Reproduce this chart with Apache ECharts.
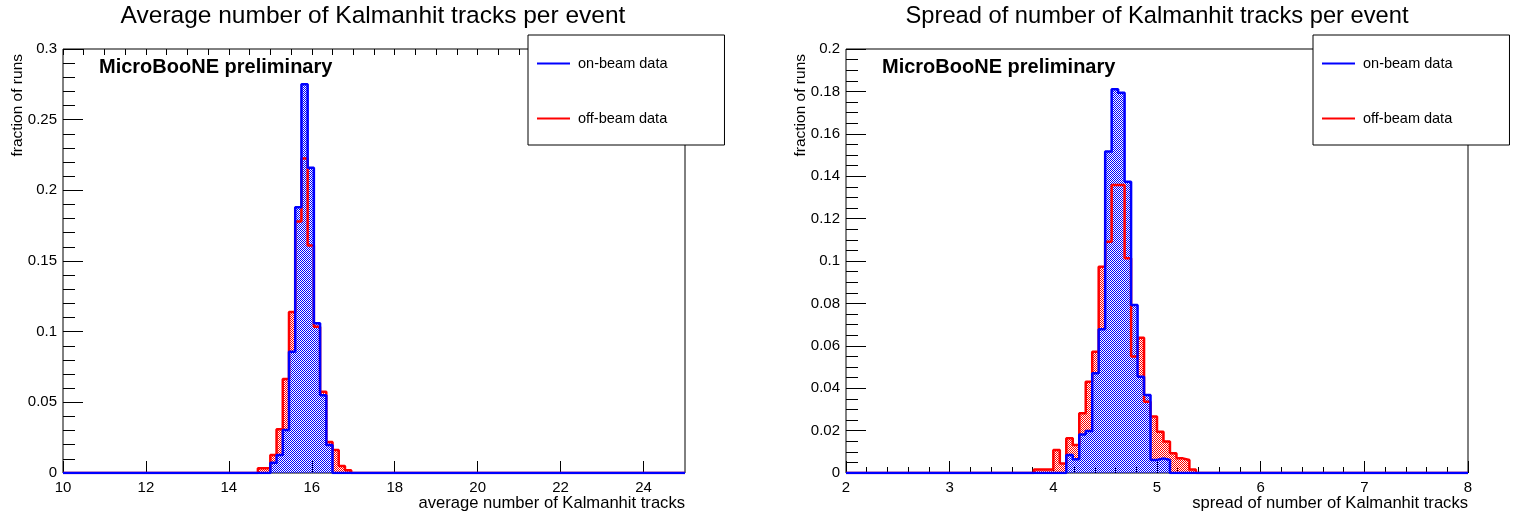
<!DOCTYPE html>
<html>
<head>
<meta charset="utf-8">
<script src="https://cdn.jsdelivr.net/npm/echarts@6/dist/echarts.min.js"></script>
<style>
html, body { margin: 0; padding: 0; background: #fff; }
#chart { width: 1521px; height: 520px; }
</style>
</head>
<body>
<div id="chart"></div>
<script>
// left pad: average number of Kalmanhit tracks per event (bins of 0.15)
var avgXRange = [10, 25];
var avgYRange = [0, 0.3];
var avgBinWidth = 0.15;
var avgOnStart = 15.0;
var avgOnBeam = [0.0073, 0.0127, 0.0304, 0.0858, 0.188, 0.275, 0.216, 0.106, 0.055, 0.0198];
var avgOffStart = 14.7;
var avgOffBeam = [0.0033, 0.0033, 0.0127, 0.031, 0.0665, 0.114, 0.178, 0.2225, 0.161, 0.1035, 0.0575, 0.022, 0.0163, 0.005, 0.002];

// right pad: spread of number of Kalmanhit tracks (bins of 0.0625)
var sprXRange = [2, 8];
var sprYRange = [0, 0.2];
var sprBinWidth = 0.0625;
var sprOnStart = 4.125;
var sprOnBeam = [0.0085, 0.0065, 0.0182, 0.0198, 0.047, 0.0678, 0.1516, 0.181, 0.1794, 0.1374, 0.0792, 0.0454, 0.0368, 0.0061, 0.0069, 0.0061];
var sprOffStart = 3.8125;
var sprOffBeam = [0.0017, 0.0017, 0.0017, 0.0108, 0.0045, 0.0164, 0.0132, 0.0282, 0.0431, 0.0572, 0.0973, 0.1091, 0.1358, 0.1358, 0.1013, 0.0549, 0.0638, 0.0336, 0.0266, 0.0195, 0.0148, 0.0093, 0.0069, 0.0061, 0.0017];

var seriesNames = ['on-beam data', 'off-beam data'];
var FONT = 'Liberation Sans';

// histogram -> step points, zero line over the whole axis range
function histPoints(start, width, values, range) {
    var pts = [[range[0], 0]];
    for (var i = 0; i < values.length; i++) {
        pts.push([+(start + i * width).toFixed(4), values[i]]);
    }
    pts.push([+(start + values.length * width).toFixed(4), 0]);
    pts.push([range[1], 0]);
    return pts;
}

// ROOT style dotted fill
function dotPattern(color) {
    var c = document.createElement('canvas');
    c.width = 2; c.height = 2;
    var ctx = c.getContext('2d');
    ctx.fillStyle = color;
    ctx.fillRect(0, 0, 1, 1);
    ctx.fillRect(1, 1, 1, 1);
    return { image: c, repeat: 'repeat' };
}

function histSeries(name, color, idx, pts) {
    return {
        name: name,
        type: 'line',
        step: 'end',
        xAxisIndex: idx,
        yAxisIndex: idx,
        symbol: 'none',
        itemStyle: { color: color },
        lineStyle: { color: color, width: 2.5 },
        areaStyle: { color: dotPattern(color), opacity: 1 },
        data: pts
    };
}

function xAxisOf(grid, range, step, minor) {
    return {
        gridIndex: grid,
        type: 'value',
        min: range[0],
        max: range[1],
        interval: step,
        axisLine: { show: false },
        axisTick: { inside: true, length: 12, lineStyle: { color: '#000' } },
        minorTick: minor ? { show: true, splitNumber: minor, length: 6, lineStyle: { color: '#000' } } : { show: false },
        axisLabel: { color: '#000', fontSize: 15, margin: 7, fontFamily: FONT, showMaxLabel: range[1] % step === 0 },
        splitLine: { show: false }
    };
}

function yAxisOf(grid, range, step, minor) {
    return {
        gridIndex: grid,
        type: 'value',
        min: range[0],
        max: range[1],
        interval: step,
        axisLine: { show: false },
        axisTick: { inside: true, length: 20, lineStyle: { color: '#000' } },
        minorTick: { show: true, splitNumber: minor, length: 12, lineStyle: { color: '#000' } },
        axisLabel: { color: '#000', fontSize: 15, margin: 6, fontFamily: FONT },
        splitLine: { show: false }
    };
}

function legendAt(left) {
    return {
        left: left,
        top: 35,
        orient: 'vertical',
        align: 'left',
        selectedMode: false,
        backgroundColor: '#fff',
        borderColor: '#000',
        borderWidth: 1,
        borderRadius: 0,
        padding: [21, 57, 19, 9],
        itemGap: 40,
        itemWidth: 33,
        itemHeight: 2,
        textStyle: { color: '#000', fontSize: 14.5, fontFamily: FONT, padding: [0, 0, 0, 3] },
        data: [
            { name: seriesNames[0], icon: 'rect', itemStyle: { color: '#0000ff' } },
            { name: seriesNames[1], icon: 'rect', itemStyle: { color: '#ff0000' } }
        ]
    };
}

function label(x, y, text, size, opts) {
    var o = opts || {};
    return {
        type: 'text',
        x: x,
        y: y,
        rotation: o.rotation || 0,
        z: 10,
        style: {
            text: text,
            fill: '#000',
            font: (o.bold ? 'bold ' : '') + size + 'px "' + FONT + '"',
            textAlign: o.align || 'left',
            textVerticalAlign: 'middle'
        }
    };
}

var myChart = echarts.init(document.getElementById('chart'));

var option = {
    animation: false,
    backgroundColor: '#fff',
    textStyle: { fontFamily: FONT },
    title: [
        { text: 'Average number of Kalmanhit tracks per event', left: 373, top: 4, textAlign: 'center', padding: 0,
          textStyle: { fontSize: 24.5, fontWeight: 'normal', color: '#000', fontFamily: FONT } },
        { text: 'Spread of number of Kalmanhit tracks per event', left: 1157, top: 4, textAlign: 'center', padding: 0,
          textStyle: { fontSize: 23.7, fontWeight: 'normal', color: '#000', fontFamily: FONT } }
    ],
    legend: [legendAt(528), legendAt(1313)],
    grid: [
        { left: 63, top: 49, width: 622, height: 424, show: true, borderColor: '#000', borderWidth: 1, backgroundColor: 'transparent' },
        { left: 846, top: 49, width: 622, height: 424, show: true, borderColor: '#000', borderWidth: 1, backgroundColor: 'transparent' }
    ],
    xAxis: [
        xAxisOf(0, avgXRange, 2, 0),
        xAxisOf(1, sprXRange, 1, 5),
        // minor ticks of left pad every 0.5
        {
            gridIndex: 0, type: 'value', min: avgXRange[0], max: avgXRange[1], interval: 0.5,
            axisLine: { show: false },
            axisTick: { inside: true, length: 6, lineStyle: { color: '#000' } },
            axisLabel: { show: false },
            splitLine: { show: false }
        }
    ],
    yAxis: [
        yAxisOf(0, avgYRange, 0.05, 5),
        yAxisOf(1, sprYRange, 0.02, 4)
    ],
    graphic: [
        label(99, 67, 'MicroBooNE preliminary', 20, { bold: true }),
        label(882, 67, 'MicroBooNE preliminary', 20, { bold: true }),
        label(685, 503, 'average number of Kalmanhit tracks', 16.6, { align: 'right' }),
        label(1468, 503, 'spread of number of Kalmanhit tracks', 16.6, { align: 'right' }),
        label(18, 54, 'fraction of runs', 15.5, { align: 'right', rotation: Math.PI / 2 }),
        label(801, 54, 'fraction of runs', 15.5, { align: 'right', rotation: Math.PI / 2 })
    ],
    series: [
        histSeries(seriesNames[1], '#ff0000', 0, histPoints(avgOffStart, avgBinWidth, avgOffBeam, avgXRange)),
        histSeries(seriesNames[0], '#0000ff', 0, histPoints(avgOnStart, avgBinWidth, avgOnBeam, avgXRange)),
        histSeries(seriesNames[1], '#ff0000', 1, histPoints(sprOffStart, sprBinWidth, sprOffBeam, sprXRange)),
        histSeries(seriesNames[0], '#0000ff', 1, histPoints(sprOnStart, sprBinWidth, sprOnBeam, sprXRange))
    ]
};
myChart.setOption(option);
</script>
</body>
</html>
